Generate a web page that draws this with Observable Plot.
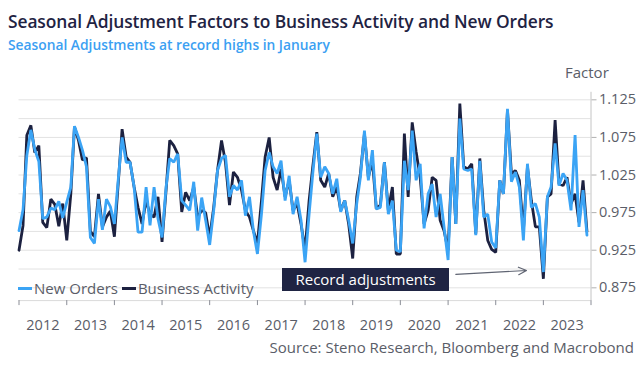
<!DOCTYPE html>
<html><head><meta charset="utf-8">
<script src="https://cdn.jsdelivr.net/npm/d3@7"></script>
<script src="https://cdn.jsdelivr.net/npm/@observablehq/plot@0.6"></script>
<style>
body{margin:0;background:#fff;font-family:"Open Sans","Noto Sans",sans-serif;}
#wrap{position:relative;width:642px;height:367px;overflow:hidden;background:#fff;}
.abs{position:absolute;white-space:nowrap;}
#title{left:8px;top:9px;font-size:17.4px;font-weight:600;color:#1f2343;letter-spacing:-0.1px;}
#subtitle{left:8px;top:35px;font-size:13.8px;font-weight:600;color:#3ba0f2;}
#factor{left:565px;top:62px;font-size:15px;color:#5a5d68;}
#chart{left:0;top:56px;}
#legend{left:18px;top:278px;font-size:15px;color:#5a5d68;display:flex;align-items:center;}
#legend .sw{display:inline-block;width:14px;height:3px;margin-right:2px;}
#legend .item{display:flex;align-items:center;margin-right:4px;}
#box{left:282px;top:268px;width:167px;height:23px;background:#1f2443;color:#fff;font-size:15px;text-align:center;line-height:23px;}
#source{right:8px;top:337px;font-size:15px;color:#5a5d68;}
</style>
</head><body>
<div id="wrap">
  <div id="title" class="abs"></div>
  <div id="subtitle" class="abs"></div>
  <div id="factor" class="abs"></div>
  <div id="chart" class="abs"></div>
  <div id="legend" class="abs"></div>
  <div id="box" class="abs"></div>
  <div id="source" class="abs"></div>
</div>
<script>
const titleText = "Seasonal Adjustment Factors to Business Activity and New Orders";
const subtitleText = "Seasonal Adjustments at record highs in January";
const yLabel = "Factor";
const sourceText = "Source: Steno Research, Bloomberg and Macrobond";
const annotationText = "Record adjustments";

const startYear = 2012;
const years = [2012, 2013, 2014, 2015, 2016, 2017, 2018, 2019, 2020, 2021, 2022, 2023];
const yTickValues = [0.875, 0.925, 0.975, 1.025, 1.075, 1.125];
const gridValues = [0.875, 0.9, 0.925, 0.95, 0.975, 1.0, 1.025, 1.05, 1.075, 1.1, 1.125];
const seriesNames = ["New Orders", "Business Activity"];

// Monthly values, Jan 2012 - Dec 2023
const businessActivity = [
  0.925, 0.958, 1.078, 1.091, 1.055, 1.064, 0.962, 0.955, 0.993, 0.986, 0.957, 0.987,
  0.938, 1.000, 1.089, 1.071, 1.045, 1.048, 0.950, 0.943, 1.000, 0.956, 0.969, 0.977,
  0.943, 1.018, 1.086, 1.049, 1.042, 1.009, 0.982, 0.960, 0.991, 0.973, 0.969, 0.996,
  0.936, 1.005, 1.071, 1.064, 1.053, 0.976, 1.002, 0.991, 1.009, 0.969, 0.978, 0.975,
  0.942, 0.982, 1.031, 1.071, 1.042, 0.985, 1.029, 1.022, 1.005, 0.978, 0.969, 0.951,
  0.934, 0.991, 1.049, 1.075, 1.022, 1.005, 1.033, 0.996, 1.018, 0.978, 0.987, 0.960,
  0.925, 0.991, 1.036, 1.082, 1.018, 1.009, 1.027, 0.996, 1.009, 0.978, 0.991, 0.960,
  0.914, 0.996, 1.027, 1.080, 1.022, 1.044, 0.980, 0.985, 1.042, 0.978, 1.009, 0.920,
  0.920, 1.080, 0.996, 1.095, 1.056, 1.022, 0.960, 0.978, 1.022, 1.018, 0.965, 0.951,
  0.925, 1.049, 0.960, 1.120, 1.036, 1.033, 1.040, 0.947, 1.047, 0.978, 0.938, 0.926,
  0.922, 1.018, 1.000, 1.111, 1.027, 1.031, 1.018, 0.951, 1.036, 0.991, 0.956, 0.956,
  0.887, 0.996, 1.000, 1.098, 1.013, 1.011, 1.022, 0.987, 1.000, 0.962, 1.018, 0.950
];
const newOrders = [
  0.951, 0.979, 1.051, 1.085, 1.059, 1.043, 0.967, 0.969, 0.981, 0.979, 0.990, 0.968,
  0.989, 1.009, 1.090, 1.075, 1.058, 1.036, 0.942, 0.934, 0.993, 0.952, 0.993, 0.983,
  0.960, 1.022, 1.075, 1.042, 1.042, 1.009, 0.949, 0.949, 1.009, 0.958, 1.009, 0.967,
  0.942, 1.009, 1.047, 1.042, 1.053, 0.991, 0.985, 0.978, 1.016, 0.951, 0.995, 0.965,
  0.932, 0.978, 1.031, 1.047, 1.051, 0.996, 1.011, 1.005, 1.018, 0.971, 0.996, 0.951,
  0.920, 0.973, 1.031, 1.055, 1.036, 1.027, 1.044, 0.991, 1.024, 0.973, 0.996, 0.965,
  0.909, 0.973, 1.027, 1.080, 1.022, 1.036, 1.027, 1.000, 1.020, 0.976, 0.991, 0.965,
  0.934, 0.987, 1.022, 1.084, 1.018, 1.058, 0.980, 0.982, 1.042, 0.973, 0.991, 0.925,
  0.923, 1.044, 1.005, 1.084, 1.018, 1.040, 0.954, 1.000, 1.013, 0.969, 1.000, 0.956,
  0.912, 1.049, 0.960, 1.100, 1.033, 1.031, 1.033, 0.945, 1.044, 0.969, 0.973, 0.936,
  0.928, 1.018, 1.000, 1.113, 1.016, 1.029, 1.009, 0.938, 1.040, 0.982, 0.987, 0.969,
  0.896, 0.996, 1.009, 1.067, 1.011, 1.027, 1.018, 0.978, 1.078, 0.956, 1.005, 0.945
];
// annotation arrow (data coordinates)
const arrowFrom = {date: "2021-03-01", value: 0.893};
const arrowTo = {date: "2022-08-25", value: 0.898};

const colors = {"New Orders": "#3ba4f5", "Business Activity": "#1c2140"};

const start = new Date(Date.UTC(startYear, 0, 1));
const toRows = (arr, name) => arr.map((v, i) => ({date: d3.utcMonth.offset(start, i), value: v, series: name}));
const baRows = toRows(businessActivity, "Business Activity");
const noRows = toRows(newOrders, "New Orders");

const xDomain = [new Date(Date.UTC(years[0], 0, 1)), new Date(Date.UTC(years[years.length - 1] + 1, 0, 1))];
const yDomain = [0.858, 1.135];
const yearStarts = [...years.map(y => new Date(Date.UTC(y, 0, 1))), xDomain[1]];
const yearMids = years.map(y => new Date(Date.UTC(y, 6, 2)));

const textColor = "#5a5d68";

const plot = Plot.plot({
  width: 642,
  height: 282,
  marginLeft: 18.5,
  marginRight: 51.5,
  marginTop: 35.8,
  marginBottom: 37.9,
  style: {fontFamily: '"Open Sans","Noto Sans",sans-serif', fontSize: "14px", color: textColor, background: "transparent", overflow: "visible"},
  x: {type: "utc", domain: xDomain},
  y: {domain: yDomain},
  marks: [
    Plot.ruleY(gridValues, {stroke: "#e2e2e2", strokeWidth: 1}),
    Plot.ruleY([yDomain[0]], {stroke: "#dadada", strokeWidth: 1}),
    Plot.ruleX([xDomain[1]], {stroke: "#c4c4c4", strokeWidth: 1}),
    Plot.axisX(yearStarts, {tickSize: 5, tickFormat: () => "", stroke: "#8a8d96", label: null}),
    Plot.axisX(yearMids, {tickSize: 0, tickPadding: 19, tickFormat: d3.utcFormat("%Y"), label: null, fill: textColor, fontSize: 14.5}),
    Plot.axisY(yTickValues, {anchor: "right", tickSize: 5, tickPadding: 3, tickFormat: d3.format(".3f"), label: null, stroke: "#b0b0b0", fill: textColor, fontSize: 14.5}),
    Plot.lineY(baRows, {x: "date", y: "value", stroke: colors["Business Activity"], strokeWidth: 2.8, strokeLinejoin: "miter"}),
    Plot.lineY(noRows, {x: "date", y: "value", stroke: colors["New Orders"], strokeWidth: 2.8, strokeLinejoin: "miter"}),
    Plot.arrow([{x1: new Date(arrowFrom.date), y1: arrowFrom.value, x2: new Date(arrowTo.date), y2: arrowTo.value}],
      {x1: "x1", y1: "y1", x2: "x2", y2: "y2", stroke: "#5f6472", strokeWidth: 1.2, headLength: 11, headAngle: 50})
  ]
});
document.getElementById("chart").appendChild(plot);

document.getElementById("title").textContent = titleText;
document.getElementById("subtitle").textContent = subtitleText;
document.getElementById("factor").textContent = yLabel;
document.getElementById("source").textContent = sourceText;
document.getElementById("box").textContent = annotationText;
const legend = document.getElementById("legend");
for (const name of seriesNames) {
  const item = document.createElement("span");
  item.className = "item";
  const sw = document.createElement("span");
  sw.className = "sw";
  sw.style.background = colors[name];
  const t = document.createElement("span");
  t.textContent = name;
  item.appendChild(sw); item.appendChild(t);
  legend.appendChild(item);
}
</script>
</body></html>
